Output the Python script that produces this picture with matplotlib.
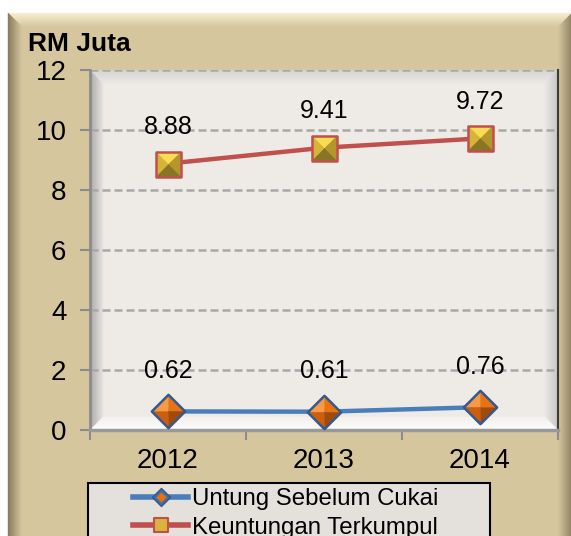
import matplotlib
matplotlib.use('Agg')
import matplotlib.pyplot as plt
import numpy as np
from matplotlib.path import Path
from matplotlib.lines import Line2D
from matplotlib.patches import Polygon, Rectangle
from matplotlib.legend_handler import HandlerTuple
from matplotlib.colors import to_rgb

# ---------------- data ----------------
years = ['2012', '2013', '2014']
untung_sebelum_cukai = [0.62, 0.61, 0.76]
keuntungan_terkumpul = [8.88, 9.41, 9.72]
y_ticks = [0, 2, 4, 6, 8, 10, 12]
y_label = 'RM Juta'
series_names = ['Untung Sebelum Cukai', 'Keuntungan Terkumpul']

plt.rcParams['font.family'] = ['Liberation Sans', 'DejaVu Sans']

W, H = 571, 536
fig = plt.figure(figsize=(W / 100, H / 100), dpi=100)
fig.patch.set_facecolor('white')

bg = fig.add_axes([0, 0, 1, 1], zorder=0)
bg.set_xlim(0, W)
bg.set_ylim(H, 0)
bg.axis('off')


def mix(c1, c2, t):
    a = np.array(to_rgb(c1))
    b = np.array(to_rgb(c2))
    return tuple(a + (b - a) * t)


def bevel(axx, L, T, R, B, w, center, sides, n=14):
    axx.add_patch(Rectangle((L, T), R - L, B - T, facecolor=center, edgecolor='none'))
    for i in range(n):
        d0 = w * i / n
        d1 = w * (i + 1) / n
        t = (i + 0.5) / n
        polys = {
            'left': [(L + d0, T + d0), (L + d1, T + d1), (L + d1, B - d1), (L + d0, B - d0)],
            'right': [(R - d0, T + d0), (R - d1, T + d1), (R - d1, B - d1), (R - d0, B - d0)],
            'top': [(L + d0, T + d0), (R - d0, T + d0), (R - d1, T + d1), (L + d1, T + d1)],
            'bottom': [(L + d0, B - d0), (R - d0, B - d0), (R - d1, B - d1), (L + d1, B - d1)],
        }
        for k, (co, ci) in sides.items():
            c = mix(co, ci, t)
            axx.add_patch(Polygon(polys[k], closed=True, facecolor=c, edgecolor=c, lw=0.3))


# outer beige panel
panel = '#D5C69D'
bevel(bg, 8, 13, 572, 562, 14, panel,
      {'top': ('#F7F0D2', panel), 'left': ('#867A5B', panel),
       'right': ('#8C8062', panel), 'bottom': ('#8C8062', panel)})

# plot area background
inner = '#EEEBE6'
bevel(bg, 90, 70, 558, 430, 13, inner,
      {'left': ('#A3A3A3', '#E6E4E0'), 'top': ('#D2D2D2', '#EAE8E4'),
       'right': ('#C4C4C4', '#EAE7E3'), 'bottom': ('#FFFFFF', '#F3F1EE')})

# legend box
bg.add_patch(Rectangle((88, 483), 402, 80, facecolor='#E4E0DC', edgecolor='black', lw=1.5))

# ---------------- main axes ----------------
ax = fig.add_axes([90 / W, 1 - 430 / H, 468 / W, 360 / H], zorder=2)
ax.set_facecolor('none')
x = np.arange(len(years))
ax.set_xlim(-0.5, len(years) - 0.5)
ax.set_ylim(y_ticks[0], y_ticks[-1])
ax.set_yticks(y_ticks)
ax.set_xticks(x)
ax.set_xticklabels(years)
ax.set_xticks(np.arange(len(years) + 1) - 0.5, minor=True)
ax.tick_params(axis='x', which='major', length=0, labelsize=20, pad=13)
ax.tick_params(axis='x', which='minor', length=7, width=1.5, color='#8C8C8C', direction='out')
ax.tick_params(axis='y', length=7, width=1.5, color='#8C8C8C', labelsize=20, pad=10)
ax.yaxis.grid(True, color='#A8A8A8', lw=1.8, ls=(0, (3.2, 1.6)))
ax.set_axisbelow(True)
ax.spines['top'].set_visible(False)
ax.spines['left'].set_color('#8C8C8C')
ax.spines['left'].set_linewidth(2)
ax.spines['bottom'].set_color('#999999')
ax.spines['bottom'].set_linewidth(2.5)
ax.spines['right'].set_color('#3A3A3A')
ax.spines['right'].set_linewidth(1.5)


def mk(verts):
    v = np.array(verts + [verts[0]], dtype=float)
    return Path(v, closed=True)


sq_pieces = [
    (mk([(-1, 1), (1, 1), (0, 0)]), '#F6DD55'),
    (mk([(-1, -1), (-1, 1), (0, 0)]), '#D6B437'),
    (mk([(1, 1), (1, -1), (0, 0)]), '#B4962C'),
    (mk([(-1, -1), (1, -1), (0, 0)]), '#8A7426'),
]
sq_outline = mk([(-1, -1), (1, -1), (1, 1), (-1, 1)])

dia_pieces = [
    (mk([(-1, 0), (0, 1), (0, 0)]), '#F89A45'),
    (mk([(0, 1), (1, 0), (0, 0)]), '#E67414'),
    (mk([(-1, 0), (0, -1), (0, 0)]), '#CC5E0E'),
    (mk([(0, -1), (1, 0), (0, 0)]), '#A24A08'),
]
dia_outline = mk([(0, 1), (1, 0), (0, -1), (-1, 0)])

blue = '#4A7EBB'
red = '#C0504D'
dia_edge = '#35598A'


def draw_series(vals, color, pieces, outline, msize, edge, label_off):
    ax.plot(x, vals, color=color, lw=3.2, zorder=3, clip_on=False, solid_capstyle='butt')
    for p, c in pieces:
        ax.plot(x, vals, ls='none', marker=p, markersize=msize, mfc=c, mec=c, mew=0.3,
                zorder=4, clip_on=False)
    ax.plot(x, vals, ls='none', marker=outline, markersize=msize, mfc='none', mec=edge,
            mew=1.8, zorder=5, clip_on=False)
    for xi, v in zip(x, vals):
        ax.annotate(f'{v:.2f}', (xi, v), xytext=(0, label_off), textcoords='offset points',
                    ha='center', va='baseline', fontsize=18, zorder=6)


draw_series(untung_sebelum_cukai, blue, dia_pieces, dia_outline, 24, dia_edge, 24)
draw_series(keuntungan_terkumpul, red, sq_pieces, sq_outline, 18, red, 21.5)

fig.text(28 / W, 1 - 44 / H, y_label, fontsize=19, fontweight='bold', va='center', ha='left')

leg_blue = (Line2D([], [], color=blue, lw=4),
            Line2D([], [], ls='none', marker=dia_outline, markersize=13, mfc='#3F6DA8',
                   mec=dia_edge, mew=1.0),
            Line2D([], [], ls='none', marker=dia_outline, markersize=7, mfc='#E8700F',
                   mec='#E8700F', mew=0.3))
leg_red = (Line2D([], [], color=red, lw=4),
           Line2D([], [], ls='none', marker=sq_outline, markersize=10, mfc='#D8B43C',
                  mec=red, mew=1.5))

fig.legend(handles=[leg_blue, leg_red], labels=series_names,
           handler_map={tuple: HandlerTuple(ndivide=1, pad=0)},
           loc='upper left', bbox_to_anchor=(133 / W, 1 - 488 / H), frameon=False,
           fontsize=17.3, handlelength=2.3, handletextpad=0.15, labelspacing=0.28,
           borderpad=0, borderaxespad=0, numpoints=1)

fig.savefig('out.png', dpi=100)
